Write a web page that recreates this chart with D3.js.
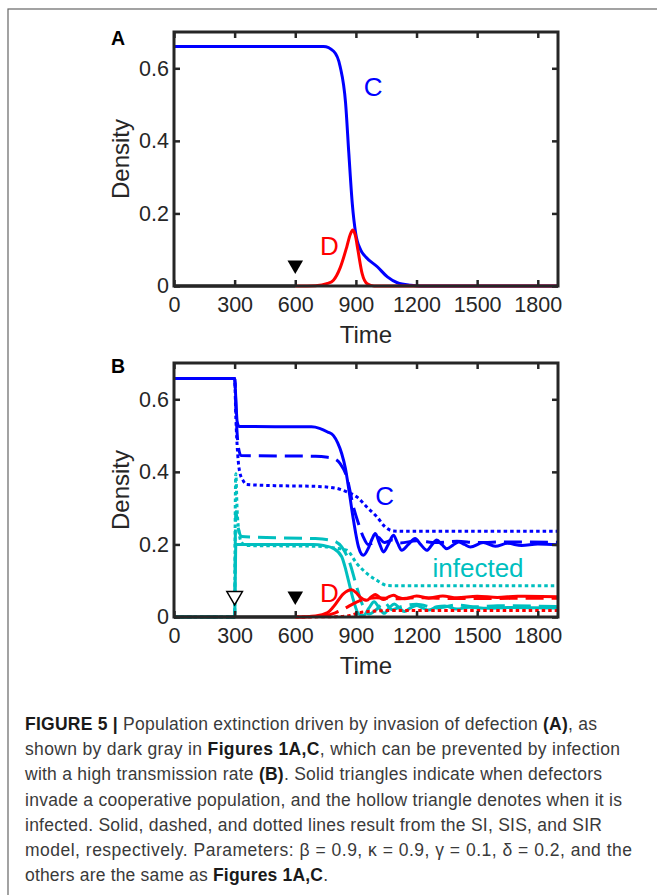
<!DOCTYPE html>
<html>
<head>
<meta charset="utf-8">
<title>Figure 5</title>
<script src="https://d3js.org/d3.v7.min.js"></script>
<style>
  body { margin: 0; background: #fff; }
  svg { display: block; font-family: "Liberation Sans", Arial, Helvetica, sans-serif; }
  .tick line { stroke: #262626; stroke-width: 2.5px; }
  .axis-label { fill: #262626; font-size: 24px; }
</style>
</head>
<body>
<svg width="657" height="895"></svg>
<script>
// ---- data (time, density) ----
const timeTicks = [0, 300, 600, 900, 1200, 1500, 1800];
const densityTicks = [0, 0.2, 0.4, 0.6];

// Panel A
const aBase = [[0, 0], [600, 0]];
const aCoop = [[0, 0.66], [740, 0.66], [790, 0.647], [822, 0.605], [849, 0.504], [865, 0.366], [882, 0.228],
  [899, 0.145], [924, 0.099], [949, 0.08], [1006, 0.053], [1056, 0.025], [1105, 0.009], [1171, 0.002], [1220, 0], [1900, 0]];
const aDef = [[600, 0], [700, 0.001], [760, 0.007], [789, 0.016], [822, 0.05], [855, 0.108], [872, 0.142], [885, 0.154],
  [897, 0.14], [910, 0.099], [931, 0.034], [956, 0.006], [990, 0], [1900, 0]];

// Panel B  (SI solid, SIS dashed, SIR dotted)
const bBase = [[0, 0], [600, 0]];
const bCoopSI = [[0, 0.657], [300, 0.657], [306, 0.6], [312, 0.54], [322, 0.525], [680, 0.524], [720, 0.52], [760, 0.51],
  [789, 0.5], [810, 0.48], [830, 0.45], [848, 0.41], [863, 0.359], [888, 0.267], [913, 0.193], [937, 0.17], [962, 0.19],
  [980, 0.215], [996, 0.23], [1015, 0.205], [1037, 0.179], [1060, 0.2], [1086, 0.225], [1105, 0.205], [1127, 0.184],
  [1160, 0.2], [1193, 0.216], [1220, 0.2], [1251, 0.184], [1275, 0.198], [1300, 0.212], [1325, 0.2], [1350, 0.188],
  [1380, 0.198], [1408, 0.207], [1437, 0.2], [1466, 0.193], [1530, 0.205], [1590, 0.195], [1650, 0.203], [1720, 0.197],
  [1800, 0.201], [1900, 0.199]];
const bCoopSIS = [[0, 0.657], [300, 0.657], [308, 0.55], [318, 0.47], [332, 0.445], [700, 0.443], [760, 0.44], [789, 0.437],
  [822, 0.423], [855, 0.386], [888, 0.303], [913, 0.257], [937, 0.22], [960, 0.2], [985, 0.205], [1010, 0.22], [1040, 0.205],
  [1080, 0.212], [1120, 0.204], [1200, 0.21], [1300, 0.205], [1400, 0.209], [1500, 0.205], [1650, 0.207], [1900, 0.206]];
const bCoopSIR = [[0, 0.657], [300, 0.657], [306, 0.55], [315, 0.45], [325, 0.4], [343, 0.375], [360, 0.365], [500, 0.362],
  [700, 0.36], [800, 0.355], [855, 0.345], [905, 0.331], [954, 0.303], [1004, 0.276], [1045, 0.248], [1086, 0.237],
  [1150, 0.236], [1900, 0.236]];
const bInfSI = [[0, 0], [300, 0], [303, 0.1], [306, 0.2], [320, 0.2], [690, 0.2], [740, 0.197], [789, 0.189], [830, 0.166],
  [850, 0.13], [863, 0.101], [888, 0.046], [913, 0.009], [937, 0.004], [965, 0.025], [990, 0.042], [1015, 0.025],
  [1040, 0.01], [1065, 0.025], [1090, 0.036], [1115, 0.025], [1140, 0.015], [1170, 0.025], [1200, 0.032], [1230, 0.025],
  [1260, 0.019], [1300, 0.028], [1340, 0.03], [1400, 0.022], [1460, 0.027], [1550, 0.024], [1650, 0.026], [1900, 0.025]];
const bInfSIS = [[0, 0], [300, 0], [303, 0.2], [306, 0.29], [312, 0.27], [320, 0.24], [335, 0.222], [400, 0.22],
  [700, 0.216], [789, 0.21], [830, 0.193], [871, 0.147], [904, 0.083], [937, 0.028], [965, 0.008], [1000, 0.02],
  [1040, 0.04], [1080, 0.02], [1120, 0.028], [1200, 0.035], [1300, 0.025], [1400, 0.033], [1500, 0.028], [1600, 0.031],
  [1900, 0.029]];
const bInfSIR = [[0, 0], [300, 0], [303, 0.3], [306, 0.395], [312, 0.3], [320, 0.24], [335, 0.205], [360, 0.197],
  [700, 0.195], [800, 0.19], [855, 0.184], [905, 0.147], [954, 0.12], [1004, 0.101], [1054, 0.087], [1100, 0.086],
  [1900, 0.086]];
const bDefSI = [[600, 0], [700, 0.003], [760, 0.012], [789, 0.028], [838, 0.064], [879, 0.075], [900, 0.068], [921, 0.055],
  [954, 0.046], [975, 0.055], [996, 0.062], [1015, 0.055], [1037, 0.048], [1060, 0.055], [1086, 0.06], [1110, 0.054],
  [1140, 0.05], [1200, 0.058], [1260, 0.052], [1330, 0.058], [1400, 0.053], [1500, 0.057], [1600, 0.054], [1700, 0.057],
  [1900, 0.056]];
const bDefSIS = [[600, 0], [750, 0.004], [800, 0.012], [850, 0.025], [888, 0.037], [920, 0.045], [954, 0.05],
  [1000, 0.053], [1100, 0.05], [1200, 0.053], [1400, 0.051], [1900, 0.052]];
const bDefSIR = [[600, 0], [800, 0.001], [870, 0.004], [920, 0.012], [980, 0.016], [1100, 0.018], [1900, 0.018]];

const BLUE = "#0000ff", RED = "#ff0000", CYAN = "#00bfbf", BLACK = "#000";
const DASH = "18,8", DOT = "3.5,3";

const svg = d3.select("svg");

// outer figure frame
svg.append("rect").attr("x", 8).attr("y", 9).attr("width", 700).attr("height", 950)
  .attr("fill", "none").attr("stroke", "#666").attr("stroke-width", 1.2);

const margin = { left: 174, width: 384, height: 254 };
const x = d3.scaleLinear().domain([0, 1900]).range([0, margin.width]);

function panel(top, letter, letterY, series, triangles, labels) {
  const y = d3.scaleLinear().domain([0, 0.7]).range([margin.height, 0]);
  const g = svg.append("g").attr("transform", `translate(${margin.left},${top})`);

  const line = d3.line().x(d => x(d[0])).y(d => y(d[1])).curve(d3.curveMonotoneX);

  series.forEach(s => {
    g.append("path").datum(s.data).attr("d", line)
      .attr("fill", "none").attr("stroke", s.color).attr("stroke-width", 3)
      .attr("stroke-dasharray", s.dash || null)
      .attr("stroke-linejoin", "round");
  });

  // axes, MATLAB style box with inward ticks
  const styleAxis = a => {
    a.select(".domain").remove();
    a.attr("font-size", 21.5).attr("font-family", "'Liberation Sans', Arial, sans-serif");
    a.selectAll("text").attr("fill", "#262626");
  };
  g.append("g").attr("transform", `translate(0,${margin.height})`)
    .call(d3.axisBottom(x).tickValues(timeTicks).tickSizeInner(-6).tickSizeOuter(0).tickPadding(11).tickFormat(d3.format("d")))
    .call(styleAxis);
  g.append("g")
    .call(d3.axisTop(x).tickValues(timeTicks).tickSizeInner(-6).tickSizeOuter(0).tickFormat(""))
    .call(styleAxis);
  g.append("g")
    .call(d3.axisLeft(y).tickValues(densityTicks).tickSizeInner(-6).tickSizeOuter(0).tickPadding(5).tickFormat(d3.format("~g")))
    .call(styleAxis);
  g.append("g").attr("transform", `translate(${margin.width},0)`)
    .call(d3.axisRight(y).tickValues(densityTicks).tickSizeInner(-6).tickSizeOuter(0).tickFormat(""))
    .call(styleAxis);

  g.append("rect").attr("width", margin.width).attr("height", margin.height)
    .attr("fill", "none").attr("stroke", "#262626").attr("stroke-width", 3);

  // invasion markers
  const tri = d3.symbol().type(d3.symbolTriangle).size(105);
  triangles.forEach(t => {
    g.append("path").attr("d", tri)
      .attr("transform", `translate(${x(t.time)},${y(0) - 21}) rotate(180)`)
      .attr("fill", t.hollow ? "#fff" : BLACK)
      .attr("stroke", BLACK).attr("stroke-width", t.hollow ? 1.5 : 0);
  });

  labels.forEach(l => {
    g.append("text").attr("x", x(l.t)).attr("y", y(l.v))
      .attr("fill", l.color).attr("font-size", l.size || 26).text(l.text);
  });

  g.append("text").attr("x", -63).attr("y", letterY)
    .attr("font-weight", "bold").attr("font-size", 19.5).attr("fill", BLACK).text(letter);

  g.append("text").attr("class", "axis-label").attr("text-anchor", "middle")
    .attr("x", margin.width / 2).attr("y", margin.height + 57).text("Time");
  g.append("text").attr("class", "axis-label").attr("text-anchor", "middle")
    .attr("transform", `translate(-45,${margin.height / 2}) rotate(-90)`).text("Density");
}

panel(32, "A", 13,
  [
    { data: aCoop, color: BLUE },
    { data: aDef, color: RED },
    { data: aBase, color: BLACK }
  ],
  [{ time: 600 }],
  [
    { text: "C", t: 939, v: 0.523, color: BLUE },
    { text: "D", t: 722, v: 0.086, color: RED }
  ]);

panel(363, "B", 10,
  [
    { data: bInfSIR, color: CYAN, dash: DOT },
    { data: bInfSIS, color: CYAN, dash: DASH },
    { data: bInfSI, color: CYAN },
    { data: bCoopSIR, color: BLUE, dash: DOT },
    { data: bCoopSIS, color: BLUE, dash: DASH },
    { data: bDefSIR, color: RED, dash: DOT },
    { data: bDefSIS, color: RED, dash: DASH },
    { data: bDefSI, color: RED },
    { data: bCoopSI, color: BLUE },
    { data: bBase, color: BLACK }
  ],
  [{ time: 300, hollow: true }, { time: 600 }],
  [
    { text: "C", t: 996, v: 0.308, color: BLUE },
    { text: "infected", t: 1279, v: 0.109, color: CYAN },
    { text: "D", t: 722, v: 0.04, color: RED }
  ]);

// ---- caption ----
const captionLines = [
  { end: 597, parts: [["FIGURE 5 |", true], [" Population extinction driven by invasion of defection ", false], ["(A)", true], [", as", false]] },
  { end: 620, parts: [["shown by dark gray in ", false], ["Figures 1A,C", true], [", which can be prevented by infection", false]] },
  { end: 602, parts: [["with a high transmission rate ", false], ["(B)", true], [". Solid triangles indicate when defectors", false]] },
  { end: 622, parts: [["invade a cooperative population, and the hollow triangle denotes when it is", false]] },
  { end: 602, parts: [["infected. Solid, dashed, and dotted lines result from the SI, SIS, and SIR", false]] },
  { end: 632, parts: [["model, respectively. Parameters: β = 0.9, κ = 0.9, γ = 0.1, δ = 0.2, and the", false]] },
  { end: 328, parts: [["others are the same as ", false], ["Figures 1A,C", true], [".", false]] }
];

captionLines.forEach((ln, i) => {
  const t = svg.append("text").attr("x", 25).attr("y", 730 + i * 25.2)
    .attr("font-size", 17.5).attr("fill", "#3a3a3a")
    .attr("textLength", ln.end - 25).attr("lengthAdjust", "spacing")
    .style("white-space", "pre");
  ln.parts.forEach(p => {
    t.append("tspan").attr("font-weight", p[1] ? "bold" : null)
      .attr("fill", p[1] ? "#1a1a1a" : null).text(p[0]);
  });
});
</script>
</body>
</html>
